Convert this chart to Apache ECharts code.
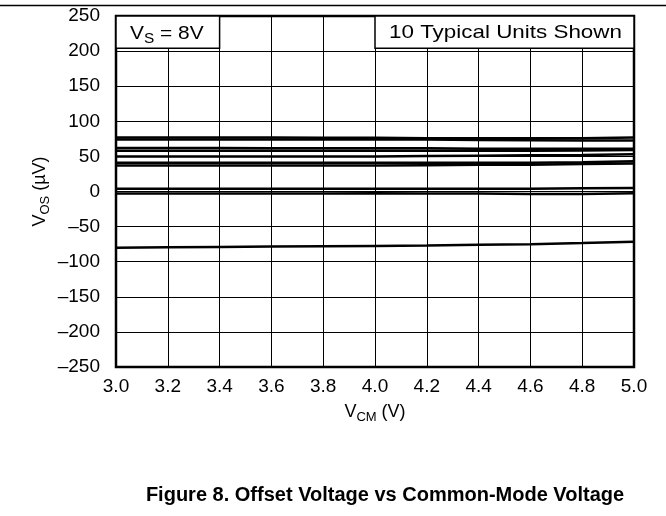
<!DOCTYPE html>
<html>
<head>
<meta charset="utf-8">
<script src="https://cdn.jsdelivr.net/npm/echarts@6/dist/echarts.min.js"></script>
<style>html,body{margin:0;padding:0;background:#fff}#c{width:666px;height:516px}</style>
</head>
<body>
<div id="c"></div>
<script>
var vcm = [3.0, 3.2, 3.4, 3.6, 3.8, 4.0, 4.2, 4.4, 4.6, 4.8, 5.0];
var unit1 = [77, 77, 77, 77, 76.5, 76.5, 76, 76, 76, 76, 77];
var unit2 = [74, 74, 74, 74, 74, 74, 74, 73.5, 73, 72.5, 72.5];
var unit3 = [62, 62, 62, 61.5, 61.5, 61.5, 61.5, 61, 61, 61, 61];
var unit4 = [58, 58, 58, 58, 58, 58, 58, 58, 58, 58.5, 59];
var unit5 = [50, 50, 50, 50, 50, 50, 50.5, 51, 51.5, 52, 53];
var unit6 = [41, 41, 41, 41, 41, 41, 41, 41, 41, 41.5, 43];
var unit7 = [37, 37, 37, 37, 37, 37, 37.5, 38, 38, 39, 40];
var unit8 = [4, 4, 4, 4, 4, 4, 4, 4, 4, 4.5, 5];
var unit9 = [-3, -3, -3, -3, -3, -2.5, -3, -3, -3.5, -3.5, -2.5];
var unit10 = [-80, -79.5, -79, -78.5, -78, -77.5, -77, -76, -75, -73.5, -71.5];
var units = [unit1, unit2, unit3, unit4, unit5, unit6, unit7, unit8, unit9, unit10];
var xTicks = ['3.0','3.2','3.4','3.6','3.8','4.0','4.2','4.4','4.6','4.8','5.0'];
var yTicks = [-250, -200, -150, -100, -50, 0, 50, 100, 150, 200, 250];
var boxRightText = '10 Typical Units Shown';
var caption = 'Figure 8. Offset Voltage vs Common-Mode Voltage';

var FONT = '"Liberation Sans", Arial, sans-serif';
function richSub(colorKey, size) {
  var v = { fontFamily: FONT, fontSize: size, lineHeight: size + 5 };
  var s = { fontFamily: FONT, fontSize: size - 5, lineHeight: size - 5, verticalAlign: 'bottom' };
  v[colorKey] = '#000'; s[colorKey] = '#000';
  return { v: v, s: s };
}
var chart = echarts.init(document.getElementById('c'));
var series = units.map(function (u) {
  return {
    type: 'line', symbol: 'none', silent: true,
    lineStyle: { color: '#000', width: 2.5 },
    data: vcm.map(function (x, i) { return [x, u[i]]; }),
    z: 5
  };
});
chart.setOption({
  animation: false,
  backgroundColor: '#fff',
  grid: { left: 116, right: 32, top: 16, bottom: 149, show: true, borderColor: '#000', borderWidth: 2.5, backgroundColor: '#fff', z: 0 },
  xAxis: {
    type: 'value', min: 3.0, max: 5.0, interval: 0.2,
    axisLine: { show: false }, axisTick: { show: false },
    axisLabel: { color: '#000', fontFamily: FONT, fontSize: 19, margin: 10,
      formatter: function (v) { var i = Math.round((v - 3) / 0.2); return xTicks[i]; } },
    splitLine: { show: true, lineStyle: { color: '#000', width: 1 } },
    name: '{v|V}{s|CM}{v| (V)}', nameLocation: 'middle', nameGap: 34,
    nameTextStyle: { rich: richSub('color', 18) }
  },
  yAxis: {
    type: 'value', min: -250, max: 250, interval: 50,
    axisLine: { show: false }, axisTick: { show: false },
    axisLabel: { color: '#000', fontFamily: FONT, fontSize: 19, margin: 16,
      formatter: function (v) { var t = yTicks[Math.round((v + 250) / 50)]; return t < 0 ? '\u2013' + Math.abs(t) : String(t); } },
    splitLine: { show: true, lineStyle: { color: '#000', width: 1 } },
    name: '{v|V}{s|OS}{v| (\u00b5V)}', nameLocation: 'middle', nameGap: 64, nameRotate: 90,
    nameMoveOverlap: false,
    nameTextStyle: { rich: richSub('color', 18) }
  },
  series: series
});

function boxes() {
  var p1 = chart.convertToPixel({ gridIndex: 0 }, [3.0, 250]);
  var p2 = chart.convertToPixel({ gridIndex: 0 }, [3.4, 204]);
  var q1 = chart.convertToPixel({ gridIndex: 0 }, [4.0, 250]);
  var q2 = chart.convertToPixel({ gridIndex: 0 }, [5.0, 204]);
  chart.setOption({ graphic: [
    { type: 'rect', z: 10, shape: { x: p1[0], y: p1[1], width: p2[0] - p1[0], height: p2[1] - p1[1] },
      style: { fill: '#fff', stroke: '#000', lineWidth: 1.5 } },
    { type: 'rect', z: 10, shape: { x: q1[0], y: q1[1], width: q2[0] - q1[0], height: q2[1] - q1[1] },
      style: { fill: '#fff', stroke: '#000', lineWidth: 1.5 } },
    { type: 'text', z: 11, x: p1[0] + 14, y: p1[1] + 6, scaleX: 1.1,
      style: { text: '{v|V}{s|S}{v| = 8V}', rich: richSub('fill', 19) } },
    { type: 'text', z: 11, x: q2[0] - 12, y: q1[1] + 7, scaleX: 1.18,
      style: { text: boxRightText, fontFamily: FONT, fontSize: 19, fill: '#000', align: 'right', verticalAlign: 'top' } },
    { type: 'line', z: 11, shape: { x1: 0, y1: 5.5, x2: 666, y2: 5.5 }, style: { stroke: '#000', lineWidth: 1.5 } },
    { type: 'text', z: 11, x: 385, y: 495,
      style: { text: caption, fontFamily: FONT, fontSize: 20, fontWeight: 'bold', fill: '#000', align: 'center', verticalAlign: 'middle' } }
  ] });
}
boxes();
</script>
</body>
</html>
